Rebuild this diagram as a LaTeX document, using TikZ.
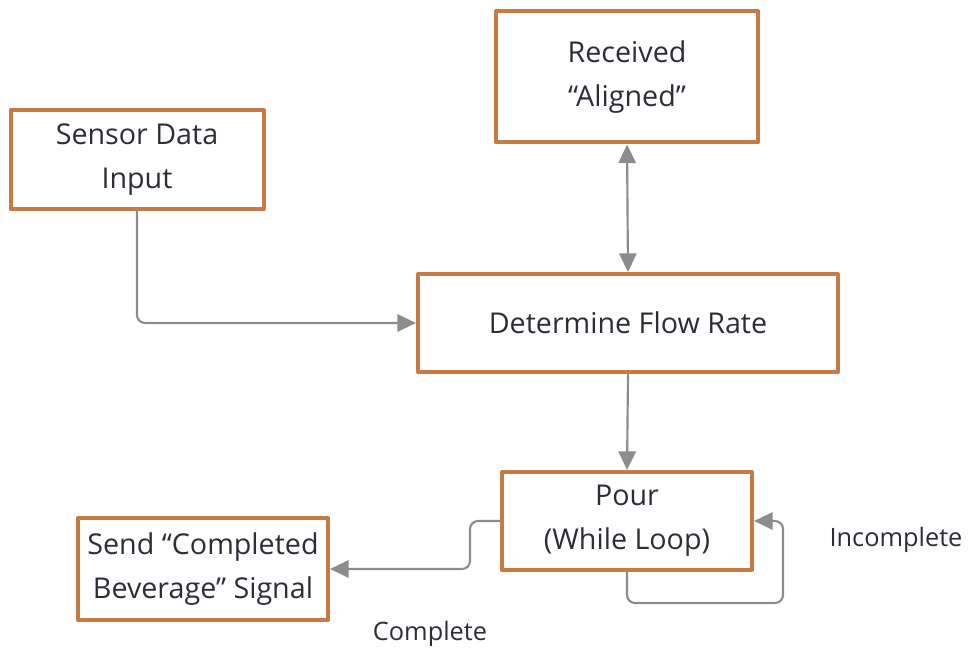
\documentclass[tikz,border=0pt]{standalone}
\usepackage{fontspec}
\setmainfont{Open Sans}
\usepackage{tikz}
\definecolor{boxorange}{RGB}{200,122,70}
\definecolor{linegray}{RGB}{140,140,140}
\definecolor{textdark}{RGB}{45,45,55}
\usetikzlibrary{arrows.meta}
\tikzset{
    stage/.style = {draw=boxorange, line width=3pt, fill=white, align=center,
        text=textdark, font=\fontsize{21.5}{33}\selectfont, inner sep=0pt},
    flow/.style = {draw=linegray, line width=1.6pt, rounded corners=6pt,
        -{Triangle[length=14pt,width=13pt]}},
    flowlabel/.style = {text=textdark, font=\fontsize{19}{22}\selectfont}
}

\begin{document}
\begin{tikzpicture}[x=0.75pt, y=-0.75pt, line cap=round, line join=round]
\useasboundingbox (0,0) rectangle (969,648);

% boxes
\node[stage, minimum width=262*0.75pt, minimum height=131*0.75pt] (aligned) at (627,77) {Received\\``Aligned''};
\node[stage, minimum width=253*0.75pt, minimum height=99*0.75pt] (sensor) at (137,160) {Sensor Data\\Input};
\node[stage, minimum width=420*0.75pt, minimum height=98*0.75pt] (flowrate) at (628,323) {Determine Flow Rate};
\node[stage, minimum width=250*0.75pt, minimum height=98*0.75pt] (pour) at (627,521) {Pour\\(While Loop)};
\node[stage, minimum width=250*0.75pt, minimum height=102*0.75pt] (signal) at (203,569) {Send ``Completed\\Beverage'' Signal};

% labels
\node[flowlabel] (incomplete) at (896,540) {Incomplete};
\node[flowlabel] (complete) at (430,634) {Complete};

% connectors
\coordinate (cbend) at (470,545);
\coordinate (loopc) at (783,603);
\draw[flow] (sensor.south) |- (flowrate.west);
\draw[flow, {Triangle[length=14pt,width=13pt]}-{Triangle[length=14pt,width=13pt]}] (aligned.south) -- (flowrate.north);
\draw[flow] (flowrate.south) -- (pour.north);
\draw[flow] (pour.west) -| (cbend) |- (signal.east);
\draw[flow] (pour.south) |- (loopc) |- (pour.east);
\end{tikzpicture}
\end{document}
